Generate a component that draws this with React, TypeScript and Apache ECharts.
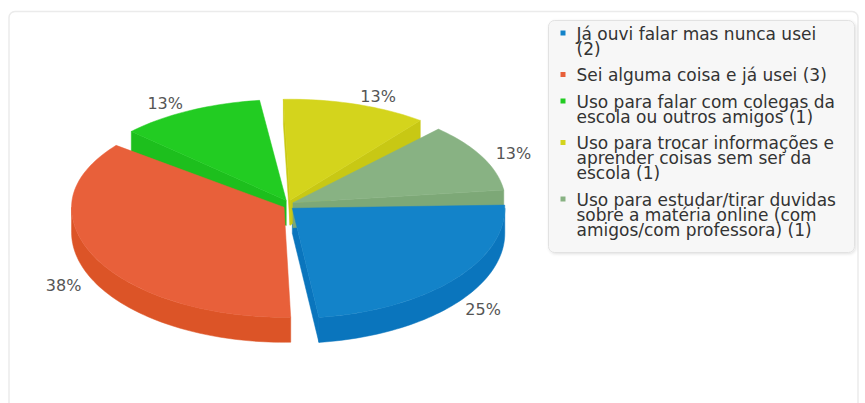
import React, { useEffect, useRef } from 'react';
import * as echarts from 'echarts';

// ---- data ----
const categories: string[] = [
  'Já ouvi falar mas nunca usei',
  'Sei alguma coisa e já usei',
  'Uso para falar com colegas da escola ou outros amigos',
  'Uso para trocar informações e aprender coisas sem ser da escola',
  'Uso para estudar/tirar duvidas sobre a matéria online (com amigos/com professora)',
];
const counts: number[] = [2, 3, 1, 1, 1];

// ---- styling ----
const topColors = ['#1383c9', '#e8603a', '#22cc22', '#d4d41c', '#88b283'];
const sideColors = ['#0a75bd', '#dc5427', '#1dbf1d', '#c8c814', '#7da877'];
const FONT = '"DejaVu Sans", Verdana, sans-serif';

const CX = 288.5;
const CY = 205;
const RX = 212.5;
const RY_TOP = 101;
const RY_BOT = 110;
const DEPTH = 25;
const START = -4.5;
const PAD = 2.7;
const EXPLODE = 5;

const LEG_BOX = { x: 548.5, y: 20.5, w: 306, h: 232 };
const LEG_ICON_X = 560.5;
const LEG_ICON = 5;
const LEG_TEXT_X = 576.5;
const LEG_TEXT_W = 265;
const LEG_FS = 17;
const LEG_LH = 15;
const LEG_GAP = 11.5;
const LEG_FIRST = 33.5;

const total = counts.reduce((a, b) => a + b, 0);
const rad = (d: number) => (d * Math.PI) / 180;

function sliceAngles(i: number) {
  let acc = START;
  for (let k = 0; k < i; k++) acc += (counts[k] / total) * 360;
  const span = (counts[i] / total) * 360;
  return { a0: acc, a1: acc + span };
}

function pt(c: number[], deg: number, dy = 0): number[] {
  const s = Math.sin(rad(deg));
  const ry = s > 0 ? RY_BOT : RY_TOP;
  return [c[0] + RX * Math.cos(rad(deg)), c[1] + ry * s + dy];
}

function arc(c: number[], from: number, to: number, dy = 0): number[][] {
  const n = Math.max(2, Math.ceil(Math.abs(to - from) / 1.5));
  const out: number[][] = [];
  for (let k = 0; k <= n; k++) out.push(pt(c, from + ((to - from) * k) / n, dy));
  return out;
}

function renderItem(params: any, api: any) {
  const i = params.dataIndex;
  const v = api.value(0);
  const { a0: s0, a1: s1 } = sliceAngles(i);
  const a0 = s0 + PAD;
  const a1 = s1 - PAD;
  const mid = (s0 + s1) / 2;
  const c = [CX + EXPLODE * Math.cos(rad(mid)), CY + EXPLODE * Math.sin(rad(mid))];
  const children: any[] = [];

  // outer wall on the front half
  const ranges = [
    [-360, -180],
    [0, 180],
    [360, 540],
  ];
  ranges.forEach(([lo, hi]) => {
    const f = Math.max(lo, a0);
    const t = Math.min(hi, a1);
    if (t > f) {
      const pts = arc(c, f, t, 0).concat(arc(c, t, f, DEPTH));
      children.push({
        type: 'polygon',
        shape: { points: pts },
        style: { fill: sideColors[i], stroke: sideColors[i], lineWidth: 0.5 },
        z2: 2,
      });
    }
  });

  // radial faces
  const face = (deg: number) => {
    const p = pt(c, deg);
    const pb = pt(c, deg, DEPTH);
    children.push({
      type: 'polygon',
      shape: { points: [c, p, pb, [c[0], c[1] + DEPTH]] },
      style: { fill: sideColors[i], stroke: sideColors[i], lineWidth: 0.5 },
      z2: 1,
    });
  };
  if (Math.cos(rad(a0)) < 0) face(a0);
  if (Math.cos(rad(a1)) > 0) face(a1);

  // top surface
  children.push({
    type: 'polygon',
    shape: { points: [c].concat(arc(c, a0, a1, 0)) },
    style: { fill: topColors[i], stroke: topColors[i], lineWidth: 0.5 },
    z2: 10,
  });

  // percentage label
  const cm = Math.cos(rad(mid));
  const sm = Math.sin(rad(mid));
  const ry = sm > 0 ? RY_BOT : RY_TOP;
  const lx = c[0] + (RX + 15) * cm;
  const ly = c[1] + (ry + 8) * sm + (sm > 0 ? DEPTH : 0);
  children.push({
    type: 'text',
    x: lx,
    y: ly,
    z2: 20,
    style: {
      text: Math.round((v / total) * 100) + '%',
      fill: '#555555',
      fontSize: 16,
      fontFamily: FONT,
      align: cm < 0 ? 'right' : 'left',
      verticalAlign: 'middle',
    },
  });

  return { type: 'group', children };
}

let measureCtx: CanvasRenderingContext2D | null = null;
function measure(s: string): number {
  if (!measureCtx) {
    const cv = document.createElement('canvas');
    measureCtx = cv.getContext('2d');
  }
  if (!measureCtx) return s.length * LEG_FS * 0.55;
  measureCtx.font = `${LEG_FS}px ${FONT}`;
  return measureCtx.measureText(s).width;
}

function wrap(text: string, maxW: number): string[] {
  const words = text.split(' ');
  const lines: string[] = [];
  let cur = '';
  words.forEach((w) => {
    const t = cur ? cur + ' ' + w : w;
    if (!cur || measure(t) <= maxW) cur = t;
    else {
      lines.push(cur);
      cur = w;
    }
  });
  if (cur) lines.push(cur);
  return lines;
}

function buildLegend() {
  const els: any[] = [];
  els.push({
    type: 'rect',
    shape: { x: LEG_BOX.x, y: LEG_BOX.y, width: LEG_BOX.w, height: LEG_BOX.h, r: 6 },
    style: {
      fill: '#f7f7f7',
      stroke: '#e2e2e2',
      lineWidth: 1,
      shadowBlur: 3,
      shadowOffsetX: 1,
      shadowOffsetY: 1,
      shadowColor: 'rgba(0,0,0,0.12)',
    },
    z: 1,
  });
  let y = LEG_FIRST;
  categories.forEach((name, i) => {
    const lines = wrap(`${name} (${counts[i]})`, LEG_TEXT_W);
    els.push({
      type: 'rect',
      shape: { x: LEG_ICON_X, y: y - LEG_ICON / 2 - 0.5, width: LEG_ICON, height: LEG_ICON },
      style: { fill: topColors[i] },
      z: 2,
    });
    els.push({
      type: 'text',
      x: LEG_TEXT_X,
      y: y - LEG_LH / 2,
      z: 2,
      style: {
        text: lines.join('\n'),
        fill: '#333333',
        fontSize: LEG_FS,
        fontFamily: FONT,
        lineHeight: LEG_LH,
        verticalAlign: 'top',
        align: 'left',
      },
    });
    y += lines.length * LEG_LH + LEG_GAP;
  });
  return els;
}

export default function App() {
  const ref = useRef<HTMLDivElement>(null);
  useEffect(() => {
    if (!ref.current) return;
    const chart = echarts.init(ref.current, null, { renderer: 'svg' });
    chart.setOption({
      animation: false,
      backgroundColor: '#ffffff',
      graphic: [
        {
          type: 'rect',
          shape: { x: 9, y: 11.5, width: 849, height: 440, r: 6 },
          style: { fill: '#ffffff', stroke: '#ebebeb', lineWidth: 1.5 },
          z: -1,
        },
        ...buildLegend(),
      ],
      series: [
        {
          type: 'custom',
          coordinateSystem: 'none',
          silent: true,
          renderItem,
          data: counts.map((v, i) => ({ name: categories[i], value: v })),
        },
      ],
    });
    return () => chart.dispose();
  }, []);
  return (
    <div
      ref={ref}
      style={{ position: 'fixed', left: 0, top: 0, width: 865, height: 403 }}
    />
  );
}
